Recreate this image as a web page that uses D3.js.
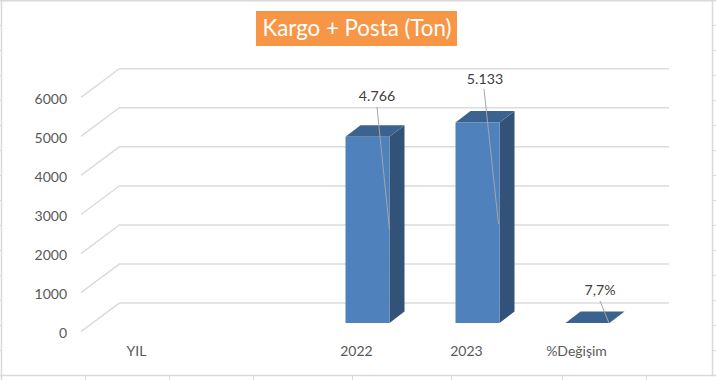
<!DOCTYPE html>
<html>
<head>
<meta charset="utf-8">
<script src="https://cdnjs.cloudflare.com/ajax/libs/d3/7.8.5/d3.min.js"></script>
<style>
  html, body { margin: 0; padding: 0; background: #fff; overflow: hidden; }
  svg { display: block; }
  text { font-family: Lato, "Open Sans", sans-serif; }
</style>
</head>
<body>
<div id="wrapper"></div>
<script>
// data
const categories = ["YIL", "", "2022", "2023", "%Değişim"]
const values = [null, null, 4766, 5133, 0.077]
const valueLabels = ["", "", "4.766", "5.133", "7,7%"]
const yTicks = [0, 1000, 2000, 3000, 4000, 5000, 6000]
const titleText = "Kargo + Posta (Ton)"

const width = 716
const height = 380

const svg = d3.select("#wrapper").append("svg")
    .attr("width", width)
    .attr("height", height)

// spreadsheet cell lines behind the chart
const sheetColor = "#d9d9d9"
const rowTicks = d3.range(25, 375, 25)
const columnTicks = [85, 169, 253, 352, 451, 562, 646]
const sheet = svg.append("g")
    .attr("stroke", sheetColor)
    .attr("fill", "none")
sheet.append("path").attr("stroke-width", 1.5)
    .attr("d", `M1.5,0V380M0,0.75H716M712.5,0V376M0,375.5H716`)
sheet.selectAll(".row-left").data(rowTicks).enter().append("line")
    .attr("x1", 0).attr("x2", 1)
    .attr("y1", d => d + 0.5).attr("y2", d => d + 0.5)
sheet.selectAll(".row-right").data(rowTicks).enter().append("line")
    .attr("x1", 713).attr("x2", 716)
    .attr("y1", d => d + 0.5).attr("y2", d => d + 0.5)
sheet.selectAll(".col").data(columnTicks).enter().append("line")
    .attr("x1", d => d + 0.5).attr("x2", d => d + 0.5)
    .attr("y1", 376).attr("y2", 380)

// scales, measured on the front edge of the floor
const yScale = d3.scaleLinear().domain([0, 6000]).range([331.7, 97.3])
const xScale = d3.scaleBand().domain(d3.range(categories.length)).range([92.5, 642.5])

// 3d offsets
const wallDx = 38.3
const wallDy = -28.6
const floorX = 81

// gridlines: side wall then back wall
svg.append("g").selectAll("path")
    .data(yTicks)
    .enter().append("path")
      .attr("fill", "none")
      .attr("stroke", "#dcdcdc")
      .attr("stroke-width", 1.5)
      .attr("d", d => d3.line()([
        [floorX, yScale(d)],
        [floorX + wallDx, yScale(d) + wallDy],
        [669, yScale(d) + wallDy],
      ]))

// y axis labels
svg.append("g").selectAll("text")
    .data(yTicks)
    .enter().append("text")
      .attr("x", 67)
      .attr("y", d => yScale(d) + 6.3)
      .attr("text-anchor", "end")
      .attr("font-size", 14)
      .attr("fill", "#595959")
      .text(d => d)

// bars
const barWidth = 44
const depthDx = 15
const depthDy = -11.5
const barBase = 323
const heightScale = d3.scaleLinear().domain([0, 6000]).range([0, yScale(0) - yScale(6000)])

const bars = categories
  .map((c, i) => ({ i, value: values[i], label: valueLabels[i] }))
  .filter(d => d.value != null)
bars.forEach(d => {
  d.x0 = xScale(d.i) + (xScale.bandwidth() - barWidth) / 2
  d.x1 = d.x0 + barWidth
  d.top = barBase - heightScale(d.value)
})

const poly = pts => d3.line()(pts) + "Z"
const barGroup = svg.append("g").selectAll("g").data(bars).enter().append("g")

barGroup.append("path")
    .attr("fill", "#325278")
    .attr("d", d => poly([
      [d.x1, barBase], [d.x1 + depthDx, barBase + depthDy],
      [d.x1 + depthDx, d.top + depthDy], [d.x1, d.top],
    ]))
barGroup.append("path")
    .attr("fill", "#3c6290")
    .attr("d", d => poly([
      [d.x0, d.top], [d.x0 + depthDx, d.top + depthDy],
      [d.x1 + depthDx, d.top + depthDy], [d.x1, d.top],
    ]))
barGroup.append("rect")
    .attr("fill", "#4f81bd")
    .attr("x", d => d.x0)
    .attr("y", d => d.top)
    .attr("width", barWidth)
    .attr("height", d => barBase - d.top)

// category labels sit a bit left of their bars
svg.append("g").selectAll("text")
    .data(categories)
    .enter().append("text")
      .attr("x", (d, i) => xScale(i) + xScale.bandwidth() / 2 - 11)
      .attr("y", 356)
      .attr("text-anchor", "middle")
      .attr("font-size", 14)
      .attr("fill", "#595959")
      .text(d => d)

// data labels with leader lines (label position relative to bar, dragged by hand in the original)
const labelPos = {
  2: { dx: 9.5, y: 100.5, lx: 377, ly: 107, ex: 389.5, ey: 230 },
  3: { dx: 7.5, y: 83.5, lx: 484, ly: 89, ex: 498.5, ey: 224 },
  4: { dx: 12.5, y: 295, lx: 600, ly: 301, ex: 609, ey: 323 },
}
const labelGroup = svg.append("g").selectAll("g").data(bars).enter().append("g")
labelGroup.append("line")
    .attr("stroke", "#a6a6a6")
    .attr("stroke-width", 1)
    .attr("x1", d => labelPos[d.i].lx)
    .attr("y1", d => labelPos[d.i].ly)
    .attr("x2", d => labelPos[d.i].ex)
    .attr("y2", d => labelPos[d.i].ey)
labelGroup.append("text")
    .attr("x", d => xScale(d.i) + xScale.bandwidth() / 2 + labelPos[d.i].dx)
    .attr("y", d => labelPos[d.i].y)
    .attr("text-anchor", "middle")
    .attr("font-size", 14.2)
    .attr("fill", "#404040")
    .text(d => d.label)

// title
svg.append("rect")
    .attr("x", 256)
    .attr("y", 11)
    .attr("width", 201)
    .attr("height", 35)
    .attr("fill", "#f79646")
svg.append("text")
    .attr("x", 357)
    .attr("y", 36)
    .attr("text-anchor", "middle")
    .attr("font-size", 22.3)
    .attr("fill", "#fff")
    .text(titleText)
</script>
</body>
</html>
